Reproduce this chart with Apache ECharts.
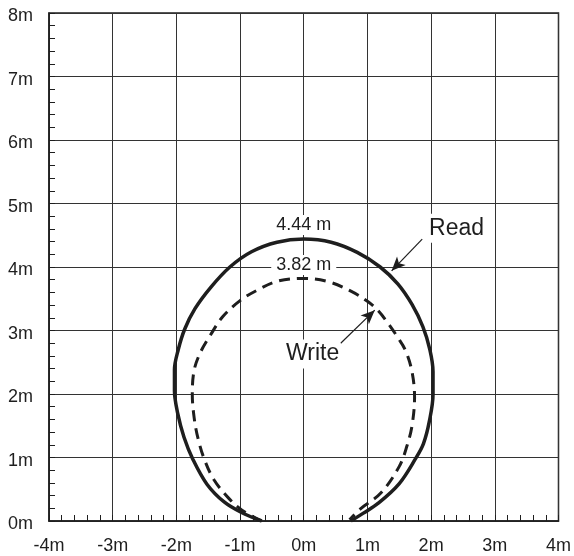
<!DOCTYPE html>
<html>
<head>
<meta charset="utf-8">
<script src="https://cdn.jsdelivr.net/npm/echarts@6/dist/echarts.min.js"></script>
<style>html,body{margin:0;padding:0;background:#fff}#c{width:574px;height:556px}</style>
</head>
<body>
<div id="c"></div>
<script>
// Read range contour (solid), x in m, y in m
var readX = [-0.66, -0.97, -1.25, -1.52, -1.74, -1.88, -1.98, -2.03, -2.03, -1.97, -1.87, -1.71, -1.46, -1.16, -0.82, -0.42, 0.00, 0.43, 0.84, 1.20, 1.48, 1.70, 1.87, 1.98, 2.03, 2.03, 1.97, 1.88, 1.76, 1.50, 1.17, 0.93, 0.74];
var readY = [0.00, 0.13, 0.30, 0.58, 0.97, 1.32, 1.70, 2.05, 2.38, 2.70, 3.02, 3.34, 3.68, 4.00, 4.24, 4.39, 4.44, 4.39, 4.23, 4.00, 3.73, 3.41, 3.06, 2.70, 2.35, 2.00, 1.56, 1.22, 0.99, 0.59, 0.28, 0.12, 0.00];
// Write range contour (dashed)
var writeX = [-0.66, -0.97, -1.18, -1.41, -1.56, -1.66, -1.72, -1.75, -1.72, -1.62, -1.47, -1.27, -1.00, -0.74, -0.40, 0.00, 0.38, 0.74, 1.00, 1.16, 1.32, 1.47, 1.60, 1.70, 1.74, 1.70, 1.62, 1.50, 1.21, 0.90, 0.72];
var writeY = [0.00, 0.17, 0.36, 0.65, 0.97, 1.30, 1.62, 2.00, 2.38, 2.66, 2.92, 3.22, 3.47, 3.63, 3.78, 3.82, 3.77, 3.62, 3.46, 3.32, 3.12, 2.90, 2.68, 2.35, 1.95, 1.50, 1.18, 0.86, 0.44, 0.20, 0.02];
// Tick labels
var xTicks = ['-4m', '-3m', '-2m', '-1m', '0m', '1m', '2m', '3m', '4m'];
var yTicks = ['0m', '1m', '2m', '3m', '4m', '5m', '6m', '7m', '8m'];
// Annotations: [x, y, text]
var annoValue = [[0, 4.66, '4.44 m'], [0, 4.03, '3.82 m']];
var annoName = [[2.40, 4.61, 'Read'], [0.14, 2.63, 'Write']];
// Leader arrows: [x1, y1, x2, y2]
var arrows = [[1.86, 4.44, 1.38, 3.94], [0.58, 2.80, 1.115, 3.32]];

function zip(a, b) { return a.map(function (v, i) { return [v, b[i]]; }); }
var FONT = '"Liberation Sans", Arial, Helvetica, sans-serif';
var INK = '#1e1e1e';
var chart = echarts.init(document.getElementById('c'), null, {renderer: 'canvas'});
chart.setOption({
  animation: false,
  backgroundColor: '#fff',
  grid: {left: 49, right: 12, top: 13, bottom: 35, show: true, borderColor: INK, borderWidth: 1.5, backgroundColor: 'transparent'},
  xAxis: {
    type: 'value', min: -4, max: 4, interval: 1,
    axisLine: {show: true, onZero: false, lineStyle: {color: INK, width: 1.5}},
    axisTick: {show: true, inside: true, length: 6, lineStyle: {color: INK}},
    minorTick: {show: true, splitNumber: 5, length: 6, lineStyle: {color: INK, width: 1}},
    splitLine: {show: true, lineStyle: {color: '#333', width: 1}},
    axisLabel: {fontSize: 18, color: INK, fontFamily: FONT, margin: 16,
      formatter: function (v) { return xTicks[Math.round(v) + 4]; }}
  },
  yAxis: {
    type: 'value', min: 0, max: 8, interval: 1,
    axisLine: {show: true, onZero: false, lineStyle: {color: INK, width: 1.5}},
    axisTick: {show: true, inside: true, length: 6, lineStyle: {color: INK}},
    minorTick: {show: true, splitNumber: 5, length: 6, lineStyle: {color: INK, width: 1}},
    splitLine: {show: true, lineStyle: {color: '#333', width: 1}},
    axisLabel: {fontSize: 18, color: INK, fontFamily: FONT, margin: 16, verticalAlign: 'top', lineHeight: 7,
      formatter: function (v) { return yTicks[Math.round(v)]; }}
  },
  series: [
    {
      name: 'Read', type: 'line', data: zip(readX, readY), smooth: 0.35, symbol: 'none',
      lineStyle: {color: INK, width: 3.5}, z: 3,
      markLine: {
        silent: true, symbol: ['none', 'arrow'], symbolSize: [9, 14], label: {show: false},
        lineStyle: {color: INK, width: 1.2, type: 'solid'},
        data: arrows.map(function (a) { return [{coord: [a[0], a[1]]}, {coord: [a[2], a[3]]}]; })
      }
    },
    {
      name: 'Write', type: 'line', data: zip(writeX, writeY), smooth: 0.35, symbol: 'none',
      lineStyle: {color: INK, width: 3, type: [11, 7]}, z: 3
    }
  ]
});
function textEl(a, size, pad) {
  var p = chart.convertToPixel({gridIndex: 0}, [a[0], a[1]]);
  return {
    type: 'text', x: p[0], y: p[1], z: 100,
    style: {text: a[2], fill: INK, font: size + 'px ' + FONT, align: 'center', verticalAlign: 'middle',
      backgroundColor: '#fff', padding: pad}
  };
}
var els = annoValue.map(function (a) { return textEl(a, 18, [1, 5]); })
  .concat(annoName.map(function (a) { return textEl(a, 23, [3, 1]); }));
chart.setOption({graphic: els});
</script>
</body>
</html>
